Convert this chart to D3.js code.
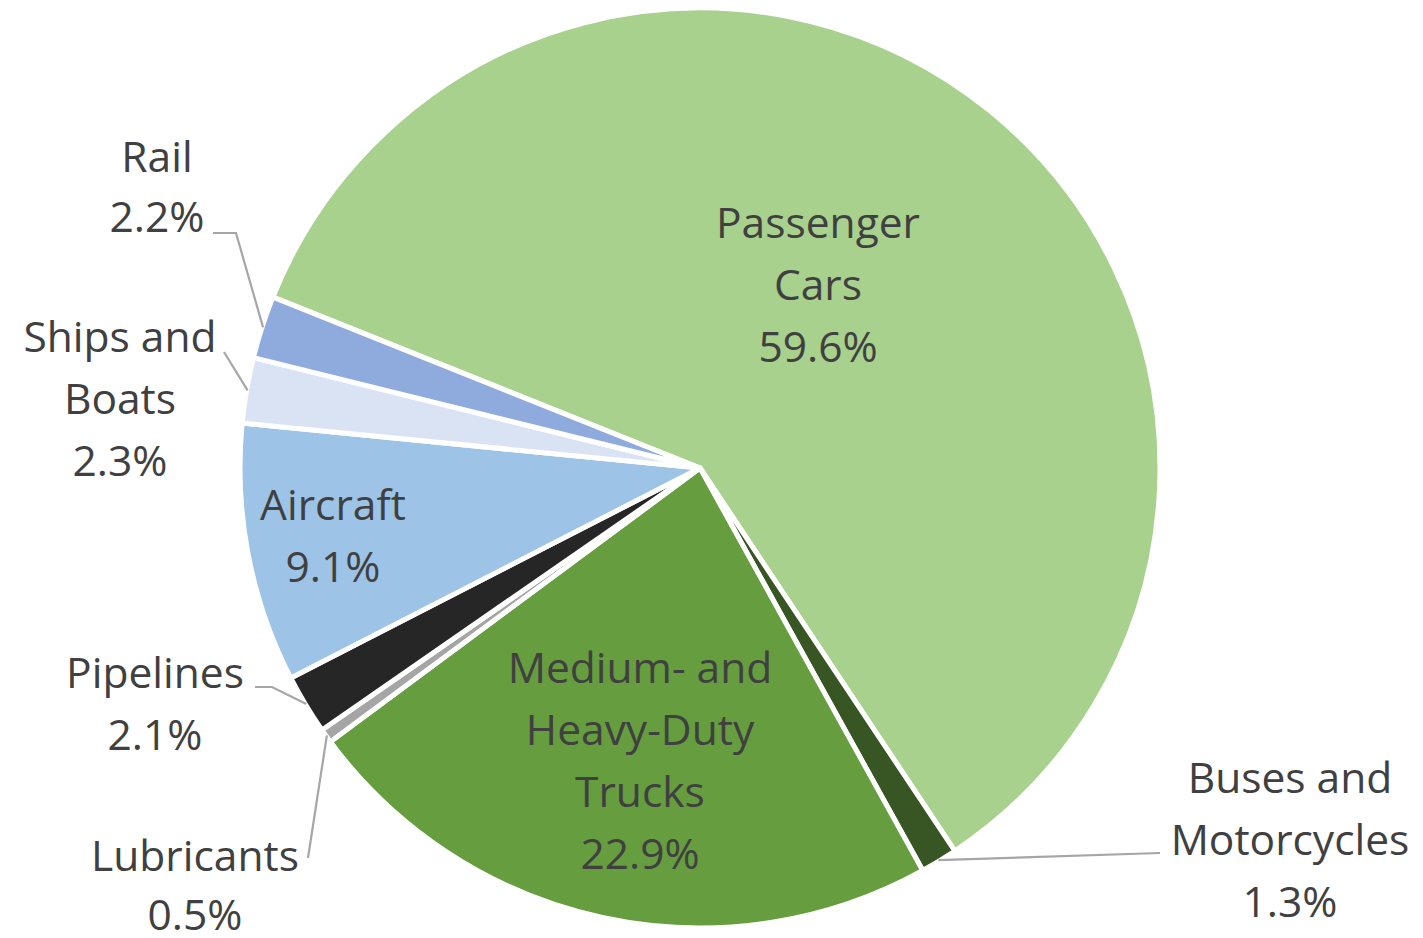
<!DOCTYPE html>
<html>
<head>
<meta charset="utf-8">
<script src="https://cdn.jsdelivr.net/npm/d3@7"></script>
<style>
  html, body { margin: 0; padding: 0; background: #ffffff; }
  svg { display: block; }
</style>
</head>
<body>
<svg id="chart" width="1423" height="938"></svg>
<script>
// ---- data ----
const categories = ["Passenger Cars", "Buses and Motorcycles", "Medium- and Heavy-Duty Trucks",
  "Lubricants", "Pipelines", "Aircraft", "Ships and Boats", "Rail"];
const shares = [59.6, 1.3, 22.9, 0.5, 2.1, 9.1, 2.3, 2.2];
const labelLines = [
  ["Passenger", "Cars"],
  ["Buses and", "Motorcycles"],
  ["Medium- and", "Heavy-Duty", "Trucks"],
  ["Lubricants"],
  ["Pipelines"],
  ["Aircraft"],
  ["Ships and", "Boats"],
  ["Rail"]
];
const colors = ["#A9D18E", "#375623", "#659D3F", "#A5A5A5", "#262626", "#9DC3E6", "#DAE3F3", "#8FAADC"];

// ---- layout ----
const W = 1423, H = 938;
const cx = 700, cy = 468, R = 460;
const startDeg = -68.2;
const lineStep = 62;

// label anchor (text centre x, first baseline y) and leader polylines (excluding the slice end)
const labelPos = {
  "Passenger Cars": {x: 818, y: 238},
  "Buses and Motorcycles": {x: 1290, y: 793, leader: [[1160, 853]]},
  "Medium- and Heavy-Duty Trucks": {x: 640, y: 683},
  "Lubricants": {x: 195, y: 871, step: 59, leader: [[308, 858]]},
  "Pipelines": {x: 155, y: 688, leader: [[255, 687], [272, 687]]},
  "Aircraft": {x: 333, y: 520},
  "Ships and Boats": {x: 120, y: 352, leader: [[224, 352]]},
  "Rail": {x: 157, y: 172, step: 60, leader: [[213, 233], [236, 233]]}
};

const svg = d3.select("#chart");
const g = svg.append("g").attr("transform", `translate(${cx},${cy})`);

const data = categories.map((c, i) => ({cat: c, value: shares[i], lines: labelLines[i], color: colors[i]}));
const start = startDeg * Math.PI / 180;
const pie = d3.pie().value(d => d.value).sort(null).startAngle(start).endAngle(start + 2 * Math.PI);
const arcs = pie(data);
const arc = d3.arc().innerRadius(0).outerRadius(R);

g.selectAll("path.slice").data(arcs).enter().append("path")
  .attr("class", "slice")
  .attr("d", arc)
  .attr("fill", d => d.data.color)
  .attr("stroke", "#ffffff")
  .attr("stroke-width", 5)
  .attr("stroke-linejoin", "round");

// leader lines
const leaderG = svg.append("g");
arcs.forEach(a => {
  const p = labelPos[a.data.cat];
  if (!p.leader) return;
  const mid = (a.startAngle + a.endAngle) / 2;
  const end = [cx + (R - 1) * Math.sin(mid), cy - (R - 1) * Math.cos(mid)];
  const pts = p.leader.concat([end]);
  leaderG.append("path")
    .attr("d", d3.line()(pts))
    .attr("fill", "none")
    .attr("stroke", "#A6A6A6")
    .attr("stroke-width", 2.2);
});

// labels
const fmt = v => v.toFixed(1) + "%";
const labelG = svg.append("g")
  .attr("font-family", "'Open Sans', 'Noto Sans', sans-serif")
  .attr("font-size", 42.5)
  .attr("fill", "#404040")
  .attr("text-anchor", "middle");
arcs.forEach(a => {
  const p = labelPos[a.data.cat];
  const step = p.step || lineStep;
  const lines = a.data.lines.concat([fmt(a.data.value)]);
  const t = labelG.append("text").attr("x", p.x).attr("y", p.y);
  lines.forEach((l, i) => {
    t.append("tspan").attr("x", p.x).attr("y", p.y + i * step).text(l);
  });
});
</script>
</body>
</html>
